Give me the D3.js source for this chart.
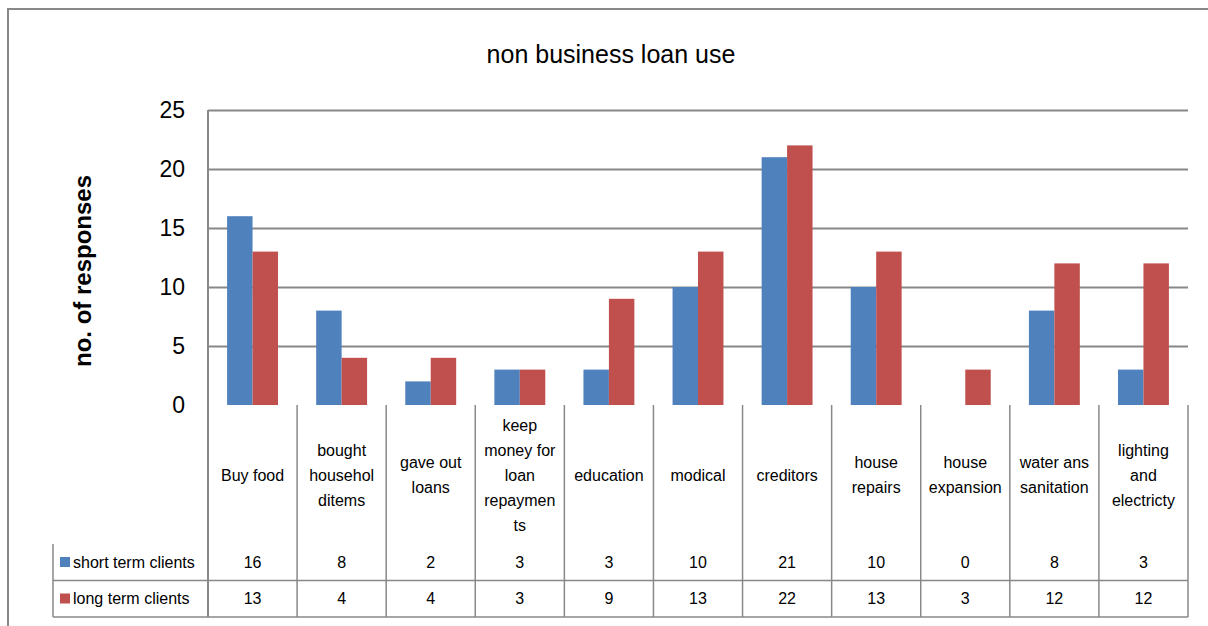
<!DOCTYPE html>
<html>
<head>
<meta charset="utf-8">
<script src="https://cdn.jsdelivr.net/npm/d3@7"></script>
<style>
  body { margin: 0; background: #fff; }
  svg { display: block; font-family: "Liberation Sans", Arial, sans-serif; }
</style>
</head>
<body>
<div id="chart"></div>
<script>
// Data____________________________________________________
const categories = [
    ["Buy food"],
    ["bought", "househol", "ditems"],
    ["gave out", "loans"],
    ["keep", "money for", "loan", "repaymen", "ts"],
    ["education"],
    ["modical"],
    ["creditors"],
    ["house", "repairs"],
    ["house", "expansion"],
    ["water ans", "sanitation"],
    ["lighting", "and", "electricty"]
];
const seriesNames = ["short term clients", "long term clients"];
const shortTerm = [16, 8, 2, 3, 3, 10, 21, 10, 0, 8, 3];
const longTerm = [13, 4, 4, 3, 9, 13, 22, 13, 3, 12, 12];
const yTicks = [0, 5, 10, 15, 20, 25];
const colors = ["#4F81BD", "#C0504D"];

// Layout__________________________________________________
const width = 1208;
const height = 626;
const plotLeft = 208;
const plotRight = 1188;
const plotTop = 110;
const plotBottom = 405;
const tableBottom = 617;
const row1Top = 544;
const row2Top = 580.5;
const legendLeft = 53;
const gray = "#888888";

const svg = d3.select('#chart')
    .append('svg')
    .attr('width', width)
    .attr('height', height);

svg.append('rect')
    .attr('width', width)
    .attr('height', height)
    .attr('fill', '#fff');

// outer chart border
svg.append('rect')
    .attr('x', 8)
    .attr('y', 9)
    .attr('width', 1230)
    .attr('height', 660)
    .attr('fill', 'none')
    .attr('stroke', gray)
    .attr('stroke-width', 2);

// Scales__________________________________________________
const idx = categories.map((d, i) => i);
const x0 = d3.scaleBand()
    .domain(idx)
    .range([plotLeft, plotRight])
    .padding(0);
const x1 = d3.scaleBand()
    .domain([0, 1])
    .range([0, x0.bandwidth()])
    .paddingInner(0)
    .paddingOuter(0.75);
const y = d3.scaleLinear()
    .domain([0, 25])
    .range([plotBottom, plotTop]);

// Gridlines + y axis______________________________________
const yAxis = d3.axisLeft(y)
    .tickValues(yTicks)
    .tickSize(-(plotRight - plotLeft))
    .tickPadding(23);
const gy = svg.append('g')
    .attr('transform', `translate(${plotLeft}, 0)`)
    .call(yAxis);
gy.select('.domain').remove();
gy.selectAll('.tick line')
    .attr('stroke', gray)
    .attr('stroke-width', 2)
    .attr('display', d => d === 0 ? 'none' : null);
gy.selectAll('.tick text')
    .attr('font-size', 23)
    .attr('font-family', '"Liberation Sans", Arial, sans-serif')
    .attr('fill', '#000');

// vertical axis line, down through the table
svg.append('line')
    .attr('x1', plotLeft).attr('x2', plotLeft)
    .attr('y1', plotTop).attr('y2', tableBottom)
    .attr('stroke', gray).attr('stroke-width', 2);

// Bars____________________________________________________
const rows = idx.map(i => [shortTerm[i], longTerm[i]]);
const groups = svg.append('g')
    .selectAll('g')
    .data(rows)
    .enter()
    .append('g')
    .attr('transform', (d, i) => `translate(${x0(i)}, 0)`);
groups.selectAll('rect')
    .data(d => d)
    .enter()
    .append('rect')
    .attr('x', (d, j) => x1(j))
    .attr('width', x1.bandwidth())
    .attr('y', d => y(d))
    .attr('height', d => y(0) - y(d))
    .attr('fill', (d, j) => colors[j]);

// Data table______________________________________________
const table = svg.append('g');
const bounds = idx.map(i => x0(i)).concat([plotRight]);
table.selectAll('line.sep')
    .data(bounds.slice(1))
    .enter()
    .append('line')
    .attr('x1', d => d).attr('x2', d => d)
    .attr('y1', plotBottom).attr('y2', tableBottom)
    .attr('stroke', gray).attr('stroke-width', 1.5);
table.append('line')
    .attr('x1', legendLeft).attr('x2', legendLeft)
    .attr('y1', row1Top).attr('y2', tableBottom)
    .attr('stroke', gray).attr('stroke-width', 1.5);
[row2Top, tableBottom].forEach(yy => {
    table.append('line')
        .attr('x1', legendLeft).attr('x2', plotRight)
        .attr('y1', yy).attr('y2', yy)
        .attr('stroke', gray).attr('stroke-width', 1.5);
});

// category labels
const lineH = 25;
const labelMid = 475;
table.selectAll('text.cat')
    .data(categories)
    .enter()
    .append('text')
    .attr('class', 'cat')
    .attr('text-anchor', 'middle')
    .attr('font-size', 16)
    .attr('fill', '#000')
    .each(function(lines, i) {
        const t = d3.select(this);
        const cx = x0(i) + x0.bandwidth() / 2;
        lines.forEach((ln, k) => {
            t.append('tspan')
                .attr('x', cx)
                .attr('y', labelMid + (k - (lines.length - 1) / 2) * lineH)
                .attr('dy', '0.35em')
                .text(ln);
        });
    });

// value rows + legend keys
const rowMid = [562, 598.5];
[shortTerm, longTerm].forEach((vals, j) => {
    table.selectAll(`text.v${j}`)
        .data(vals)
        .enter()
        .append('text')
        .attr('class', `v${j}`)
        .attr('x', (d, i) => x0(i) + x0.bandwidth() / 2)
        .attr('y', rowMid[j])
        .attr('dy', '0.35em')
        .attr('text-anchor', 'middle')
        .attr('font-size', 16)
        .attr('fill', '#000')
        .text(d => d);
    table.append('rect')
        .attr('x', 60)
        .attr('y', rowMid[j] - 5)
        .attr('width', 10)
        .attr('height', 10)
        .attr('fill', colors[j]);
    table.append('text')
        .attr('x', 73)
        .attr('y', rowMid[j])
        .attr('dy', '0.35em')
        .attr('font-size', 16)
        .attr('fill', '#000')
        .text(seriesNames[j]);
});

// Titles__________________________________________________
svg.append('text')
    .attr('x', 611)
    .attr('y', 63)
    .attr('text-anchor', 'middle')
    .attr('font-size', 25)
    .attr('fill', '#000')
    .text('non business loan use');

svg.append('text')
    .attr('transform', 'translate(91, 271) rotate(-90)')
    .attr('text-anchor', 'middle')
    .attr('font-size', 24)
    .attr('font-weight', 'bold')
    .attr('fill', '#000')
    .text('no. of responses');
</script>
</body>
</html>
